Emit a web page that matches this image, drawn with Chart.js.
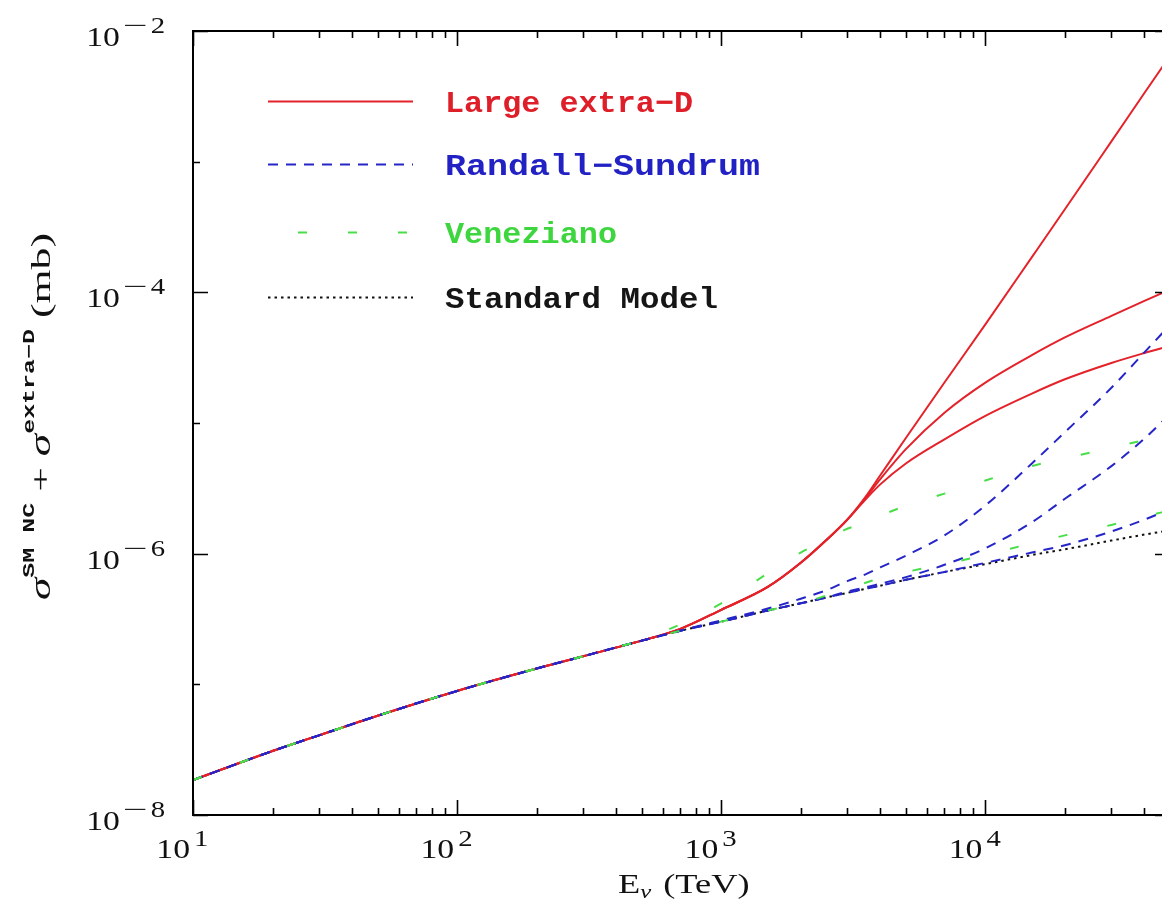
<!DOCTYPE html>
<html>
<head>
<meta charset="utf-8">
<title>Neutrino NC cross section with extra dimensions</title>
<script src="https://cdn.jsdelivr.net/npm/chart.js@4.4.0/dist/chart.umd.min.js"></script>
<style>
  html, body { margin: 0; padding: 0; background: #fff; overflow: hidden; }
  #wrap { width: 1180px; height: 902px; }
</style>
</head>
<body>
<div id="wrap"><canvas id="chart" width="1180" height="902"></canvas></div>
<script>
// neutrino energy (TeV)
const energies = [10, 20, 30, 50, 100, 200, 300, 500, 700, 1000, 1500, 2000, 2500, 3000, 3500, 4000, 5000, 7000, 10000, 15000, 20000, 30000, 40000, 50000];

// cross sections (mb)
const standardModel = [1.85e-8, 3.09e-8, 4.07e-8, 5.75e-8, 8.9e-8, 1.32e-7, 1.64e-7, 2.16e-7, 2.57e-7, 3.02e-7, 3.67e-7, 4.17e-7, 4.62e-7, 5.01e-7, 5.37e-7, 5.69e-7, 6.31e-7, 7.24e-7, 8.32e-7, 9.77e-7, 1.08e-6, 1.26e-6, 1.40e-6, 1.51e-6];

const largeExtraD1 = [1.85e-8, 3.09e-8, 4.07e-8, 5.75e-8, 8.9e-8, 1.32e-7, 1.64e-7, 2.16e-7, 2.66e-7, 3.72e-7, 5.56e-7, 8.51e-7, 1.27e-6, 1.82e-6, 2.69e-6, 3.98e-6, 7.67e-6, 2.04e-5, 5.69e-5, 1.86e-4, 4.32e-4, 1.43e-3, 3.35e-3, 6.46e-3];
const largeExtraD2 = [1.85e-8, 3.09e-8, 4.07e-8, 5.75e-8, 8.9e-8, 1.32e-7, 1.64e-7, 2.16e-7, 2.66e-7, 3.72e-7, 5.56e-7, 8.51e-7, 1.27e-6, 1.82e-6, 2.63e-6, 3.72e-6, 6.31e-6, 1.20e-5, 2.04e-5, 3.31e-5, 4.52e-5, 6.61e-5, 8.61e-5, 1.05e-4];
const largeExtraD3 = [1.85e-8, 3.09e-8, 4.07e-8, 5.75e-8, 8.9e-8, 1.32e-7, 1.64e-7, 2.16e-7, 2.66e-7, 3.72e-7, 5.56e-7, 8.51e-7, 1.27e-6, 1.82e-6, 2.57e-6, 3.39e-6, 4.90e-6, 7.50e-6, 1.135e-5, 1.68e-5, 2.16e-5, 2.88e-5, 3.43e-5, 3.89e-5];

const randallSundrum1 = [1.85e-8, 3.09e-8, 4.07e-8, 5.75e-8, 8.9e-8, 1.32e-7, 1.64e-7, 2.16e-7, 2.57e-7, 3.09e-7, 3.80e-7, 4.52e-7, 5.25e-7, 6.17e-7, 6.92e-7, 7.85e-7, 9.66e-7, 1.38e-6, 2.34e-6, 4.90e-6, 8.51e-6, 1.86e-5, 3.47e-5, 5.62e-5];
const randallSundrum2 = [1.85e-8, 3.09e-8, 4.07e-8, 5.75e-8, 8.9e-8, 1.32e-7, 1.64e-7, 2.16e-7, 2.57e-7, 3.02e-7, 3.67e-7, 4.17e-7, 4.62e-7, 5.13e-7, 5.50e-7, 5.89e-7, 6.61e-7, 8.22e-7, 1.10e-6, 1.74e-6, 2.63e-6, 4.68e-6, 7.59e-6, 1.17e-5];
const randallSundrum3 = [1.85e-8, 3.09e-8, 4.07e-8, 5.75e-8, 8.9e-8, 1.32e-7, 1.64e-7, 2.16e-7, 2.57e-7, 3.02e-7, 3.67e-7, 4.17e-7, 4.62e-7, 5.01e-7, 5.37e-7, 5.69e-7, 6.31e-7, 7.24e-7, 8.51e-7, 1.02e-6, 1.16e-6, 1.48e-6, 1.82e-6, 2.19e-6];

const veneziano1 = [1.85e-8, 3.09e-8, 4.07e-8, 5.75e-8, 8.9e-8, 1.32e-7, 1.64e-7, 2.19e-7, 2.88e-7, 4.17e-7, 7.08e-7, 1.02e-6, 1.27e-6, 1.55e-6, 1.70e-6, 1.95e-6, 2.32e-6, 2.88e-6, 3.63e-6, 4.68e-6, 5.37e-6, 6.46e-6, 7.41e-6, 8.13e-6];
const veneziano2 = [1.85e-8, 3.09e-8, 4.07e-8, 5.75e-8, 8.9e-8, 1.32e-7, 1.64e-7, 2.16e-7, 2.57e-7, 3.02e-7, 3.67e-7, 4.17e-7, 4.79e-7, 5.50e-7, 5.96e-7, 6.53e-7, 7.24e-7, 8.32e-7, 9.77e-7, 1.20e-6, 1.38e-6, 1.66e-6, 1.93e-6, 2.14e-6];

// axis ranges and labelled decades
const xRange = [10, 50000];
const yRange = [1e-8, 1e-2];
const xLabelExps = [1, 2, 3, 4];
const yLabelExps = [-2, -4, -6, -8];

const legendNames = ['Large extra\u2212D', 'Randall\u2212Sundrum', 'Veneziano', 'Standard Model'];

const RED = 'rgb(228,34,42)';
const BLUE = 'rgb(38,38,200)';
const GREEN = 'rgb(72,222,72)';
const BLACK = '#111';

const styles = {
  led: { color: RED, dash: [] },
  rs: { color: BLUE, dash: [10, 8] },
  ven: { color: GREEN, dash: [9, 41] },
  sm: { color: BLACK, dash: [2.5, 4] },
};

function pts(values) {
  return energies.map((e, i) => ({ x: e, y: values[i] }));
}

function line(values, style, order) {
  return {
    data: pts(values),
    borderColor: style.color,
    borderDash: style.dash,
    borderWidth: 2,
    pointRadius: 0,
    fill: false,
    cubicInterpolationMode: 'monotone',
    order,
  };
}

// draw text stretched horizontally like the source
function wideText(ctx, txt, x, y, sx) {
  ctx.save();
  ctx.translate(x, y);
  ctx.scale(sx, 1);
  ctx.fillText(txt, 0, 0);
  ctx.restore();
}

const SX = 1.25;
const SERIF = '"Liberation Serif", "DejaVu Serif", serif';
const MONO = '"Liberation Mono", "DejaVu Sans Mono", monospace';

const framePlugin = {
  id: 'frame',
  afterDatasetsDraw(chart) {
    const { ctx, chartArea: a, scales } = chart;
    const xs = scales.x, ys = scales.y;
    ctx.save();

    // box
    ctx.strokeStyle = '#000';
    ctx.lineWidth = 2;
    ctx.setLineDash([]);
    ctx.strokeRect(a.left, a.top, a.right - a.left, a.bottom - a.top);

    // x ticks (inward, top and bottom)
    ctx.lineWidth = 1.6;
    for (let k = 1; k <= 4; k++) {
      for (let m = 1; m <= 9; m++) {
        const v = m * Math.pow(10, k);
        if (v >= xRange[1]) continue;
        const px = Math.round(xs.getPixelForValue(v)) + 0.5;
        const len = m === 1 ? 15 : 7;
        ctx.beginPath();
        ctx.moveTo(px, a.bottom); ctx.lineTo(px, a.bottom - len);
        ctx.moveTo(px, a.top); ctx.lineTo(px, a.top + len);
        ctx.stroke();
      }
    }
    // y ticks at every decade (inward, left and right)
    for (let e = -8; e <= -2; e++) {
      const py = Math.round(ys.getPixelForValue(Math.pow(10, e))) + 0.5;
      const len = e % 2 === 0 ? 15 : 7;
      ctx.beginPath();
      ctx.moveTo(a.left, py); ctx.lineTo(a.left + len, py);
      ctx.moveTo(a.right, py); ctx.lineTo(a.right - len, py);
      ctx.stroke();
    }

    // tick labels
    ctx.fillStyle = '#111';
    ctx.textBaseline = 'alphabetic';
    ctx.textAlign = 'left';
    const baseFont = '27px ' + SERIF;
    const supFont = '23px ' + SERIF;

    xLabelExps.forEach(k => {
      const px = xs.getPixelForValue(Math.pow(10, k));
      ctx.font = baseFont;
      const wb = ctx.measureText('10').width * SX;
      wideText(ctx, '10', px - 3 - wb, a.bottom + 43, SX);
      ctx.font = supFont;
      wideText(ctx, String(k), px + 1, a.bottom + 31, SX);
    });

    yLabelExps.forEach(k => {
      const py = ys.getPixelForValue(Math.pow(10, k));
      const digit = String(-k);
      ctx.font = supFont;
      const wd = ctx.measureText(digit).width * SX;
      const wm = ctx.measureText('\u2212').width * 1.9;
      const digitX = 165 - wd;
      const minusX = digitX - 3 - wm;
      wideText(ctx, digit, digitX, py + 2, SX);
      wideText(ctx, '\u2212', minusX, py + 2, 1.9);
      ctx.font = baseFont;
      const wb = ctx.measureText('10').width * SX;
      wideText(ctx, '10', minusX - 3 - wb, py + 15, SX);
    });

    // x title: E_nu (TeV)
    let tx = 618;
    const ty = 893;
    ctx.font = '28px ' + SERIF;
    wideText(ctx, 'E', tx, ty, 1.3);
    tx += ctx.measureText('E').width * 1.3;
    ctx.font = 'italic 19px ' + SERIF;
    wideText(ctx, '\u03bd', tx, ty + 5, 1.3);
    tx += ctx.measureText('\u03bd').width * 1.3 + 12;
    ctx.font = '28px ' + SERIF;
    wideText(ctx, '(TeV)', tx, ty, 1.3);

    // y title: sigma^{SM NC} + sigma^{extra-D} (mb), rotated
    const parts = [
      { t: '\u03c3', f: 'italic 29px ' + SERIF, dy: 0 },
      { t: 'SM NC', f: 'bold 16px ' + MONO, dy: -16 },
      { t: ' + ', f: '28px ' + SERIF, dy: 0 },
      { t: '\u03c3', f: 'italic 29px ' + SERIF, dy: 0 },
      { t: 'extra\u2212D', f: 'bold 16px ' + MONO, dy: -16 },
      { t: ' (mb)', f: '28px ' + SERIF, dy: 0 },
    ];
    let total = 0;
    parts.forEach(p => { ctx.font = p.f; p.w = ctx.measureText(p.t).width; total += p.w; });
    const span = 600 - 233;
    const sc = span / total;
    ctx.save();
    ctx.translate(50, 600);
    ctx.rotate(-Math.PI / 2);
    let off = 0;
    parts.forEach(p => {
      ctx.font = p.f;
      ctx.save();
      ctx.translate(off, p.dy);
      ctx.scale(sc, 1);
      ctx.fillText(p.t, 0, 0);
      ctx.restore();
      off += p.w * sc;
    });
    ctx.restore();

    // legend
    const legendItems = [
      { name: legendNames[0], style: styles.led, text: 'rgb(222,30,40)', offset: 0 },
      { name: legendNames[1], style: styles.rs, text: 'rgb(34,34,196)', offset: 0 },
      { name: legendNames[2], style: styles.ven, text: 'rgb(62,214,62)', offset: 20 },
      { name: legendNames[3], style: styles.sm, text: '#151515', offset: 0 },
    ];
    const rows = [101, 164, 232, 297];
    const widths = [248, 315, 172, 273];
    legendItems.forEach((it, i) => {
      const yy = rows[i] + 0.5;
      ctx.strokeStyle = it.style.color;
      ctx.lineWidth = 2;
      ctx.setLineDash(it.style.dash);
      ctx.lineDashOffset = it.offset;
      ctx.beginPath();
      ctx.moveTo(268, yy);
      ctx.lineTo(413, yy);
      ctx.stroke();
      ctx.setLineDash([]);
      ctx.lineDashOffset = 0;
      ctx.fillStyle = it.text;
      ctx.font = 'bold 30px ' + MONO;
      const sx = widths[i] / ctx.measureText(it.name).width;
      wideText(ctx, it.name, 445, rows[i] + 11, sx);
    });

    ctx.restore();
  }
};

new Chart(document.getElementById('chart'), {
  type: 'line',
  data: {
    datasets: [
      line(veneziano1, styles.ven, 1),
      line(veneziano2, styles.ven, 1),
      line(randallSundrum1, styles.rs, 2),
      line(randallSundrum2, styles.rs, 2),
      line(randallSundrum3, styles.rs, 2),
      line(largeExtraD1, styles.led, 3),
      line(largeExtraD2, styles.led, 3),
      line(largeExtraD3, styles.led, 3),
      line(standardModel, styles.sm, 4),
    ]
  },
  options: {
    responsive: false,
    animation: false,
    events: [],
    layout: { padding: { left: 193, top: 31, right: 10, bottom: 87 } },
    scales: {
      x: { type: 'logarithmic', min: xRange[0], max: xRange[1], display: false },
      y: { type: 'logarithmic', min: yRange[0], max: yRange[1], display: false },
    },
    plugins: {
      legend: { display: false },
      tooltip: { enabled: false },
    },
  },
  plugins: [framePlugin],
});
</script>
</body>
</html>
